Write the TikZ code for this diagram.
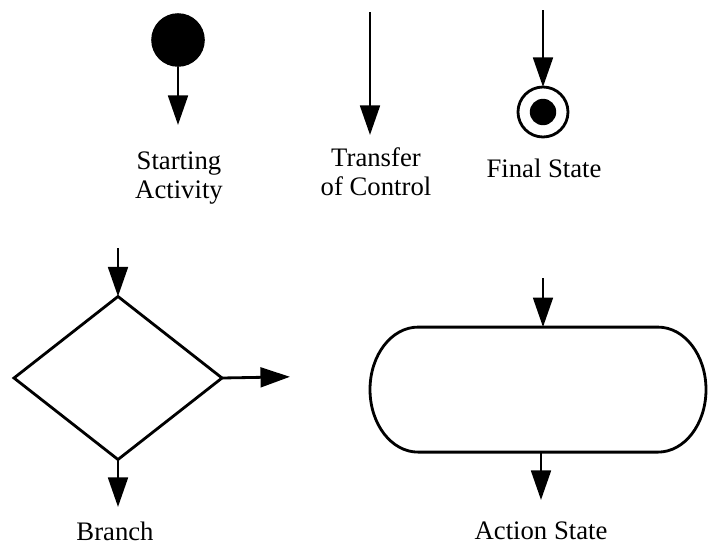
\documentclass[tikz,border=0pt]{standalone}
\usepackage{fontspec}
\setmainfont{Liberation Serif}
\usepackage{tikz}
\usetikzlibrary{shapes,arrows.meta,positioning,shapes.geometric}

\begin{document}
\begin{tikzpicture}[
    arrow/.style={-{Triangle[length=21pt,width=14pt]}, line width=2pt},
    caption/.style={align=center, font=\fontsize{19}{20.6}\selectfont},
    dot/.style={circle, fill=black, inner sep=0pt, outer sep=0pt},
    ring/.style={circle, draw=black, line width=2pt, inner sep=0pt, outer sep=0pt, minimum size=1.25cm},
    decision/.style={diamond, draw=black, line width=2pt, inner sep=0pt, outer sep=0pt, minimum width=5.2cm, minimum height=4.075cm},
    activity/.style={rectangle, inner sep=0pt, outer sep=0pt, minimum width=8.4cm, minimum height=3.125cm}
]
\useasboundingbox (0,0) rectangle (17.7,-13.625);

\node[dot, minimum size=1.34cm] (start) at (4.45,-1.0) {};
\coordinate (startEnd) at (4.45,-3.125);
\node[caption] (startLabel) at (4.475,-4.45) {Starting\\Activity};

\coordinate (ctrlTop) at (9.25,-0.3);
\coordinate (ctrlEnd) at (9.25,-3.375);
\node[caption] (ctrlLabel) at (9.4,-4.3) {Transfer\\of Control};

\node[ring] (final) at (13.575,-2.8) {};
\node[dot, minimum size=0.66cm] (finalDot) at (13.575,-2.8) {};
\coordinate (finalTop) at (13.575,-0.25);
\node[caption] (finalLabel) at (13.6,-4.2) {Final State};

\node[decision] (branch) at (2.95,-9.45) {};
\coordinate (branchIn) at (2.95,-6.2);
\coordinate (branchRight) at (7.25,-9.42);
\coordinate (branchOut) at (2.95,-12.675);
\node[caption] (branchLabel) at (2.875,-13.28) {Branch};

\node[activity] (action) at (13.45,-9.74) {};
\draw[line width=2pt] ([xshift=1.2cm]action.north west) -- ([xshift=-1.2cm]action.north east)
    arc[start angle=90, end angle=-90, x radius=1.2cm, y radius=1.5625cm]
    -- ([xshift=1.2cm]action.south west)
    arc[start angle=270, end angle=90, x radius=1.2cm, y radius=1.5625cm] -- cycle;
\coordinate (actionIn) at (13.575,-6.95);
\coordinate (actionOut) at (13.525,-12.5);
\node[caption] (actionLabel) at (13.525,-13.28) {Action State};

\draw[arrow] (start) -- (startEnd);
\draw[arrow] (ctrlTop) -- (ctrlEnd);
\draw[arrow] (finalTop) -- (final);
\draw[arrow] (branchIn) -- (branch.north);
\draw[arrow] (branch.east) -- (branchRight);
\draw[arrow] (branch.south) -- (branchOut);
\draw[arrow] (actionIn) -- (actionIn |- action.north);
\draw[arrow] (actionOut |- action.south) -- (actionOut);

\end{tikzpicture}
\end{document}
